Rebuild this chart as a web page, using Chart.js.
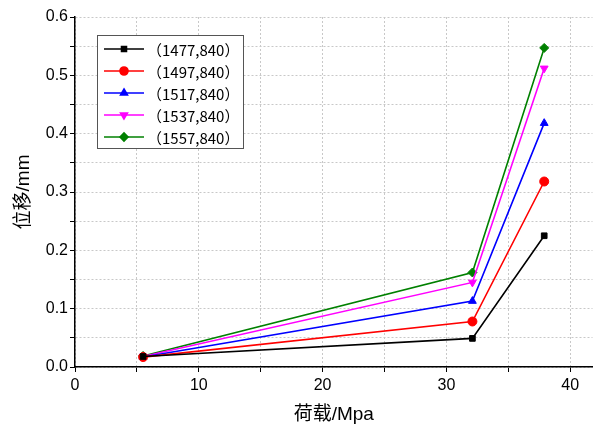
<!DOCTYPE html>
<html>
<head>
<meta charset="utf-8">
<script src="https://cdn.jsdelivr.net/npm/chart.js@4/dist/chart.umd.min.js"></script>
<style>
  body { margin: 0; background: #fff; }
  #wrap { width: 598px; height: 430px; }
</style>
</head>
<body>
<div id="wrap"><canvas id="grafico"></canvas></div>
<script>
// 荷载 (x) and 位移 (y)
const cargas = [5.5, 32.1, 37.9];
const serie1477 = [0.018, 0.049, 0.225];
const serie1497 = [0.017, 0.078, 0.318];
const serie1517 = [0.017, 0.113, 0.418];
const serie1537 = [0.018, 0.145, 0.512];
const serie1557 = [0.019, 0.162, 0.547];
const nomes = ['（1477,840）', '（1497,840）', '（1517,840）', '（1537,840）', '（1557,840）'];
const ticksX = [0, 10, 20, 30, 40];

const fonte = 'Arial, "Liberation Sans", "Noto Sans CJK SC", sans-serif';

function pontos(ys) {
    return cargas.map((x, i) => ({ x: x, y: ys[i] }));
}

function serie(nome, ys, cor, estilo, rot) {
    return {
        label: nome,
        data: pontos(ys),
        borderColor: cor,
        backgroundColor: cor,
        borderWidth: 1.6,
        pointStyle: estilo,
        pointRotation: rot || 0,
        pointRadius: estilo === 'rect' ? 4 : 4.5,
        pointBorderWidth: 1,
        fill: false,
        tension: 0
    };
}

// legend box inside the plot, line + marker like the original
const legendaPlugin = {
    id: 'legendaCaixa',
    afterDraw(chart) {
        const ctx = chart.ctx;
        const x0 = 97, y0 = 35, w = 146, h = 113;
        ctx.save();
        ctx.fillStyle = '#fff';
        ctx.fillRect(x0, y0, w, h);
        ctx.strokeStyle = '#555';
        ctx.lineWidth = 1;
        ctx.strokeRect(x0 + 0.5, y0 + 0.5, w, h);
        chart.data.datasets.forEach((ds, i) => {
            const y = y0 + 14 + i * 22;
            ctx.strokeStyle = ds.borderColor;
            ctx.lineWidth = 1.6;
            ctx.beginPath();
            ctx.moveTo(x0 + 7, y);
            ctx.lineTo(x0 + 47, y);
            ctx.stroke();
            ctx.fillStyle = ds.backgroundColor;
            Chart.helpers.drawPoint(ctx, {
                pointStyle: ds.pointStyle,
                radius: ds.pointRadius - 0.5,
                rotation: ds.pointRotation,
                borderWidth: 1
            }, x0 + 27, y);
            ctx.fillStyle = '#000';
            ctx.font = '15px "Noto Sans CJK SC", ' + fonte;
            ctx.textBaseline = 'middle';
            ctx.fillText(ds.label, x0 + 50, y + 1);
        });
        ctx.restore();
    }
};

const ctx = document.getElementById('grafico').getContext('2d');
new Chart(ctx, {
    type: 'line',
    data: {
        datasets: [
            serie(nomes[0], serie1477, '#000000', 'rect'),
            serie(nomes[1], serie1497, '#ff0000', 'circle'),
            serie(nomes[2], serie1517, '#0000ff', 'triangle'),
            serie(nomes[3], serie1537, '#ff00ff', 'triangle', 180),
            serie(nomes[4], serie1557, '#008000', 'rectRot')
        ]
    },
    options: {
        responsive: true,
        maintainAspectRatio: false,
        animation: false,
        layout: { padding: { top: 17, right: 1, bottom: 0, left: 0 } },
        plugins: {
            legend: { display: false },
            tooltip: { enabled: false }
        },
        scales: {
            x: {
                type: 'linear',
                min: 0,
                max: 41.8,
                afterFit(s) { s.height = 63; },
                ticks: {
                    stepSize: 5,
                    includeBounds: false,
                    autoSkip: false,
                    color: '#000',
                    font: { family: fonte, size: 16 },
                    padding: 4,
                    maxRotation: 0,
                    callback: v => (ticksX.includes(v) ? v : '')
                },
                grid: {
                    color: '#c8c8c8',
                    tickColor: '#000',
                    tickBorderDash: [],
                    tickLength: 5
                },
                border: { color: '#000', width: 1.5, dash: [2, 2] },
                title: {
                    display: true,
                    text: '荷载/Mpa',
                    color: '#000',
                    font: { family: fonte, size: 19 },
                    padding: { top: 8, bottom: 4 }
                }
            },
            y: {
                min: 0,
                max: 0.6,
                afterFit(s) { s.width = 75; },
                ticks: {
                    stepSize: 0.05,
                    autoSkip: false,
                    color: '#000',
                    font: { family: fonte, size: 16 },
                    padding: 2,
                    callback: v => (Math.abs(v * 10 - Math.round(v * 10)) < 1e-6 ? v.toFixed(1) : '')
                },
                grid: {
                    color: '#c8c8c8',
                    tickColor: '#000',
                    tickBorderDash: [],
                    tickLength: 5
                },
                border: { color: '#000', width: 1.5, dash: [2, 2] },
                title: {
                    display: true,
                    text: '位移/mm',
                    color: '#000',
                    font: { family: fonte, size: 19 },
                    padding: { top: 12, bottom: 4 }
                }
            }
        }
    },
    plugins: [legendaPlugin]
});
</script>
</body>
</html>
